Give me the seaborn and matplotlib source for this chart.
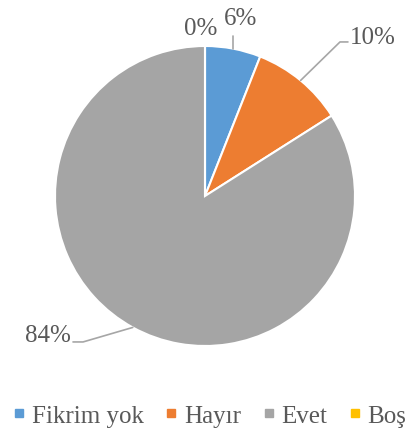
import numpy as np
import matplotlib
matplotlib.use("Agg")
import matplotlib.pyplot as plt
from matplotlib.lines import Line2D
import seaborn as sns

categories = ["Fikrim yok", "Hayır", "Evet", "Boş"]
values = [6, 10, 84, 0]
labels = ["6%", "10%", "84%", "0%"]
colors = ["#5B9BD5", "#ED7D31", "#A5A5A5", "#FFC000"]

sns.set_theme(style="white")
FAM = ['Liberation Serif', 'DejaVu Serif']
plt.rcParams['font.family'] = FAM
plt.rcParams['font.serif'] = FAM
txt_color = "#595959"

fig = plt.figure(figsize=(4.06, 4.35), dpi=100)
ax = fig.add_axes([55/406, (435-347)/435, 300/406, 300/435])
wedges, _ = ax.pie(values, colors=colors, startangle=90, counterclock=False,
                   radius=1.0, wedgeprops=dict(edgecolor="white", linewidth=1.5))
ax.set_xlim(-1, 1)
ax.set_ylim(-1, 1)
ax.set_aspect("equal")
ax.axis("off")

fs = 18
lc = "#A6A6A6"
mids = [np.deg2rad((w.theta1 + w.theta2) / 2) for w in wedges]
tkw = dict(fontsize=fs, color=txt_color, family=FAM)

# 6% : vertical leader
a = mids[0]
x0, y0 = np.cos(a), np.sin(a)
ax.plot([x0, x0], [y0, 1.07], color=lc, lw=1.2, clip_on=False)
ax.text(0.24, 1.19, labels[0], ha="center", va="center", **tkw)

# 10% : leader with elbow
a = mids[1]
x0, y0 = np.cos(a), np.sin(a)
ax.plot([x0, 0.9, 0.953], [y0, 1.027, 1.027], color=lc, lw=1.2, clip_on=False)
ax.text(0.965, 1.06, labels[1], ha="left", va="center", **tkw)

# 84% : leader with elbow
a = mids[2]
x0, y0 = np.cos(a), np.sin(a)
ax.plot([x0, -0.813, -0.88], [y0, -0.973, -0.973], color=lc, lw=1.2, clip_on=False)
ax.text(-0.895, -0.93, labels[2], ha="right", va="center", **tkw)

# 0%
ax.text(-0.027, 1.12, labels[3], ha="center", va="center", **tkw)

handles = [Line2D([0], [0], marker="s", linestyle="none", markersize=5.8,
                  markerfacecolor=c, markeredgecolor=c) for c in colors]
leg = fig.legend(handles, categories, loc="center", bbox_to_anchor=(0.517, 0.042),
                 ncol=4, frameon=False, prop=dict(family=FAM, size=fs),
                 handlelength=0.48, handletextpad=0.28, columnspacing=0.85,
                 borderaxespad=0, borderpad=0)
for t in leg.get_texts():
    t.set_color(txt_color)

fig.savefig("out.png", dpi=100)
